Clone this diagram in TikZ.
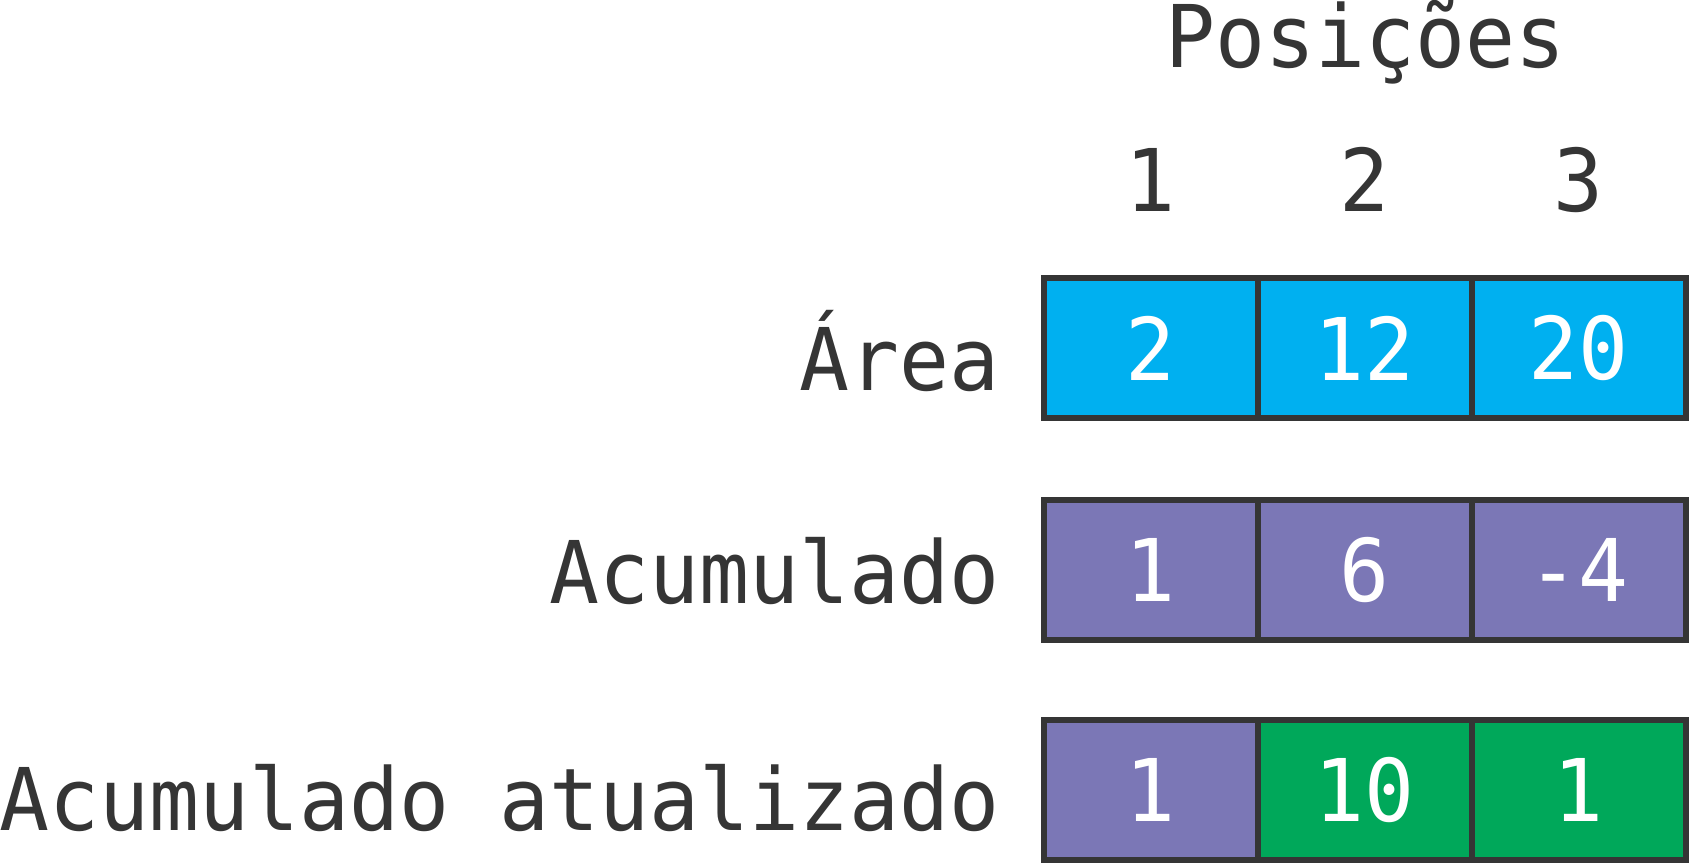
\documentclass[tikz,border=0pt]{standalone}
\usepackage{xcolor}
\usepackage{fontspec}
\setmonofont[FakeStretch=0.96]{DejaVu Sans Mono}
\usepackage{tikz}
\usetikzlibrary{positioning}
\definecolor{inkgray}{HTML}{353535}
\definecolor{areablue}{HTML}{00B0F0}
\definecolor{acumpurple}{HTML}{7B77B6}
\definecolor{newgreen}{HTML}{00A85A}

\begin{document}
\begin{tikzpicture}[
  x=0.01cm, y=-0.01cm,
  every node/.style={font=\ttfamily\fontsize{24.6}{28}\selectfont, text=inkgray, inner sep=0pt},
  cell/.style={draw=inkgray, line width=1.7pt, minimum width=2.14cm, minimum height=1.40cm, outer sep=0pt, text=white},
  rowlbl/.style={anchor=base east},
  hdr/.style={anchor=base},
]
\useasboundingbox (0,0) rectangle (1689,864);

% Header
\node[hdr] (pos) at (1365,68) {Posições};
\node[hdr] (col1) at (1150.6,212) {1};
\node[hdr] (col2) at (1364.6,212) {2};
\node[hdr] (col3) at (1578.6,212) {3};

% Area
\node[rowlbl] (lblarea) at (1000,390) {Área};
\node[cell, fill=areablue] (area1) at (1150.6,348.2) {2};
\node[cell, fill=areablue, right=0cm of area1] (area2) {12};
\node[cell, fill=areablue, right=0cm of area2] (area3) {20};

% Acumulado
\node[rowlbl] (lblacum) at (1000,603) {Acumulado};
\node[cell, fill=acumpurple] (acum1) at (1150.6,569.7) {1};
\node[cell, fill=acumpurple, right=0cm of acum1] (acum2) {6};
\node[cell, fill=acumpurple, right=0cm of acum2] (acum3) {-4};

% Acumulado atualizado
\node[rowlbl] (lblatual) at (1000,830) {Acumulado atualizado};
\node[cell, fill=acumpurple] (atual1) at (1150.6,790) {1};
\node[cell, fill=newgreen, right=0cm of atual1] (atual2) {10};
\node[cell, fill=newgreen, right=0cm of atual2] (atual3) {1};

\end{tikzpicture}
\end{document}
